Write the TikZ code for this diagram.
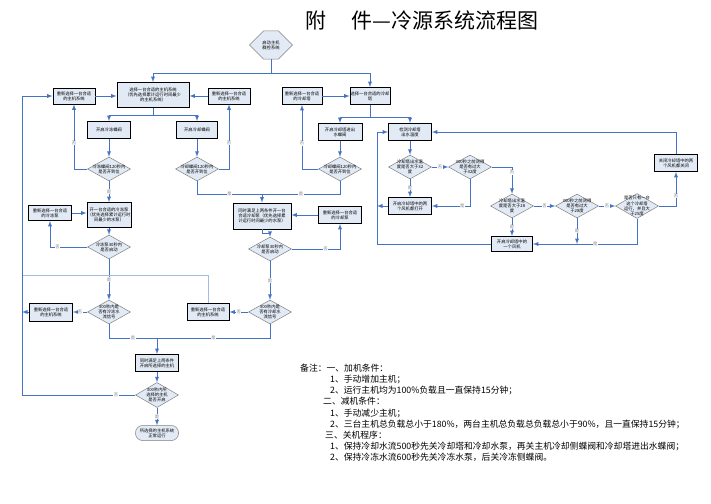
\documentclass[tikz,border=0pt]{standalone}
\usepackage{fontspec}
\setmainfont{Noto Sans CJK SC}
\usetikzlibrary{shapes.geometric,shapes.misc}
\definecolor{boxfill}{RGB}{226,234,245}
\definecolor{flow}{RGB}{68,114,196}
\definecolor{flowlite}{RGB}{160,188,226}
\begin{document}
\begin{tikzpicture}[x=1pt,y=-1pt,
box/.style={draw,line width=0.9pt,fill=boxfill,minimum width=43,minimum height=17,inner sep=0.5pt,align=center,font=\fontsize{4.3}{5.2}\selectfont},
dia/.style={diamond,draw=gray,line width=0.5pt,fill=boxfill,minimum width=43,minimum height=24,inner sep=0pt},
dtxt/.style={align=center,font=\fontsize{4.3}{5.2}\selectfont},
ln/.style={draw=flow,line width=0.9pt},
arr/.style={ln,-latex},
yn/.style={fill=white,inner sep=0.4pt,text=gray,font=\fontsize{4.3}{5}\selectfont}]
\useasboundingbox (0,0) rectangle (711,503);
\node[font=\fontsize{21}{21}\selectfont] (title) at (422,20) {附\hspace{1.2em}件—冷源系统流程图};
\node[box,chamfered rectangle,chamfered rectangle xsep=8pt,chamfered rectangle ysep=13pt,draw=gray,line width=0.5pt,minimum height=26] (start) at (271,45) {启动主机\\群控系统};
\node[box,minimum width=72,minimum height=25] (sel) at (153,95) {选择一台合适的主机系统\\（优先选择累计运行时间最少\\的主机系统）};
\node[box,minimum width=42,minimum height=16] (resl) at (74,96) {重新选择一台合适\\的主机系统};
\node[box,minimum width=42,minimum height=16] (resr) at (229,96) {重新选择一台合适\\的主机系统};
\node[box] (vf) at (109,130) {开启冷冻蝶阀};
\node[box,minimum width=41] (vc) at (197,130) {开启冷却蝶阀};
\node[dia,label={[dtxt]center:冷冻蝶阀120秒内\\是否开到位}] (qvf) at (109,169) {};
\node[dia,label={[dtxt]center:冷却蝶阀120秒内\\是否开到位}] (qvc) at (197,169) {};
\node[box,minimum height=25] (pf) at (109,215) {开一台合适的冷冻泵\\（优先选择累计运行时\\间最少的水泵）};
\node[box,minimum height=15] (respf) at (50,213) {重新选择一台合适\\的冷冻泵};
\node[dia,label={[dtxt]center:冷冻泵30秒内\\是否启动}] (qpf) at (109,247) {};
\node[box,minimum width=58,minimum height=26] (pc) at (262,216) {同时满足上两条件开一台\\合适冷却泵（优先选择累\\计运行时间最少的水泵）};
\node[box] (respc) at (340,215) {重新选择一台合适\\的冷却泵};
\node[dia,label={[dtxt]center:冷却泵30秒内\\是否启动}] (qpc) at (270,249) {};
\node[box,minimum width=40] (rest) at (302,96) {重新选择一台合适\\的冷却塔};
\node[box,minimum width=40] (tw) at (370,96) {选择一台合适的冷却\\塔};
\node[box,minimum width=44] (vt) at (340,132) {开启冷却塔进出\\水蝶阀};
\node[box] (chk) at (410,132) {检测冷却塔\\出水温度};
\node[dia,label={[dtxt]center:冷却蝶阀120秒内\\是否开到位}] (qvt) at (340,169) {};
\node[dia,label={[dtxt]center:冷却塔出水温\\度是否大于32\\度}] (qt1) at (410,167) {};
\node[dia,label={[dtxt]center:300秒之前测得\\是否有过大\\于32度}] (qh1) at (470,167) {};
\node[box] (fan2) at (410,206) {开启冷却塔中的两\\个风机都打开};
\node[dia,label={[dtxt]center:冷却塔出水温\\度是否大于28\\度}] (qt2) at (512,206) {};
\node[dia,label={[dtxt]center:300秒之前测得\\是否有过大\\于28度}] (qh2) at (577,206) {};
\node[dia,minimum height=25,label={[dtxt]center:是否只有一台\\这个冷却塔\\运行，并且大\\于25度}] (qone) at (637,206) {};
\node[box] (fan0) at (676,163) {关闭冷却塔中的两\\个风机都关闭};
\node[box,minimum width=41,minimum height=15] (fan1) at (512,244) {开启冷却塔中的\\一个风机};
\node[dia,label={[dtxt]center:300秒内是\\否有冷冻水\\流信号}] (qff) at (109,312) {};
\node[dia,label={[dtxt]center:300秒内是\\否有冷却水\\流信号}] (qfc) at (270,312) {};
\node[box,minimum height=18] (resl2) at (51,312) {重新选择一台合适\\的主机系统};
\node[box,minimum width=42] (resr2) at (208,312) {重新选择一台合适\\的主机系统};
\node[box] (on) at (157,363) {同时满足上两条件\\开启所选择的主机};
\node[dia,minimum height=25,label={[dtxt]center:300秒内所\\选择的主机\\是否开启}] (qon) at (157,395) {};
\node[box,rounded corners=7pt,draw=gray,line width=0.5pt,minimum height=15] (run) at (157,433) {所选择的主机系统\\正常运行};
\coordinate (j1) at (262,194);
\coordinate (j2) at (157,338);
\coordinate (j3) at (577,244);
\coordinate (back) at (22,96);
\coordinate (lp) at (377,132);
\coordinate (fr) at (22,275);
\draw[arr] (start.south) -- ++(0,14) -| (sel.north);
\draw[arr] (start.south) -- ++(0,14) -| (tw.north);
\draw[arr] (resl) -- (resl -| sel.west);
\draw[arr] (resr) -- (resr -| sel.east);
\draw[arr] (sel.south) -- ++(0,7) -| (vf.north);
\draw[arr] (sel.south) -- ++(0,7) -| (vc.north);
\draw[arr] (vf) -- (qvf);
\draw[arr] (vc) -- (qvc);
\draw[arr] (qvf.west) -| node[yn,pos=.7]{否} (resl.south);
\draw[arr] (qvc.east) -| node[yn,pos=.7]{否} (resr.south);
\draw[arr] (qvf) -- node[yn]{是} (pf);
\draw[ln] (qvc.south) |- node[yn,pos=.75]{是} (j1);
\draw[ln] (qvt.south) |- node[yn,pos=.75]{是} (j1);
\draw[arr] (j1) -- (pc.north);
\draw[arr] (tw.south) -- ++(0,12) -| (vt.north);
\draw[arr] (tw.south) -- ++(0,12) -| (chk.north);
\draw[arr] (rest) -- (tw);
\draw[arr] (vt) -- (qvt);
\draw[arr] (qvt.west) -| node[yn,pos=.7]{否} (rest.south);
\draw[arr] (respf) -- (respf -| pf.west);
\draw[arr] (pf) -- (qpf);
\draw[arr] (qpf.west) -| node[yn,pos=.4]{否} (respf.south);
\draw[arr] (respc) -- (respc -| pc.east);
\draw[arr] (pc.south) -- ++(0,4) -| (qpc.north);
\draw[arr] (qpc.east) -| node[yn,pos=.35]{否} (respc.south);
\draw[arr] (qpf) -- node[yn]{是} (qff);
\draw[arr] (qpc) -- node[yn]{是} (qfc);
\draw[arr] (qff) -- node[yn]{否} (resl2);
\draw[arr] (qfc) -- node[yn]{否} (resr2);
\draw[arr] (resl2) -- (resl2 -| back);
\draw[ln,draw=flowlite] (resr2.north) |- (fr);
\draw[ln] (qff.south) |- node[yn,pos=.75]{是} (j2);
\draw[ln] (qfc.south) |- node[yn,pos=.75]{是} (j2);
\draw[arr] (j2) -- (on);
\draw[arr] (on) -- (qon);
\draw[arr] (qon) -- node[yn]{是} (run);
\draw[arr] (qon.west) -- node[yn,pos=.17]{否} (qon.west -| back) -- (back) -- (resl.west);
\draw[arr] (chk) -- (qt1);
\draw[arr] (qt1) -- node[yn]{否} (qh1);
\draw[arr] (qt1) -- node[yn]{是} (fan2);
\draw[arr] (qh1.south) |- node[yn,pos=.6]{是} (fan2.east);
\draw[arr] (qh1.east) -| node[yn,pos=.6]{否} (qt2.north);
\draw[arr] (qt2) -- node[yn]{否} (qh2);
\draw[arr] (qt2) -- node[yn]{是} (fan1);
\draw[arr] (qh2) -- node[yn]{否} (qone);
\draw[arr] (qh2.south) -- node[yn]{是} (j3);
\draw[arr] (qone.south) |- node[yn,pos=.7]{是} (fan1.east);
\draw[arr] (qone.east) -| node[yn,pos=.65]{否} (fan0.south);
\draw[arr] (fan0.north) |- (chk.east);
\draw[arr] (fan1.west) -| (lp) -- (chk.west);
\draw[arr] (fan2.west) -- (fan2.west -| lp);
\node[anchor=north west,align=left,inner sep=0pt,font=\fontsize{8.8}{11.1}\selectfont] (note) at (300,364) {备注：一、加机条件：\\
\hspace*{30pt}1、手动增加主机；\\
\hspace*{30pt}2、运行主机均为100\%负载且一直保持15分钟；\\
\hspace*{23pt}二、减机条件：\\
\hspace*{30pt}1、手动减少主机；\\
\hspace*{30pt}2、三台主机总负载总小于180\%，两台主机总负载总负载总小于90\%，且一直保持15分钟；\\
\hspace*{25pt}三、关机程序：\\
\hspace*{30pt}1、保持冷却水流500秒先关冷却塔和冷却水泵，再关主机冷却侧蝶阀和冷却塔进出水蝶阀；\\
\hspace*{30pt}2、保持冷冻水流600秒先关冷冻水泵，后关冷冻侧蝶阀。};
\end{tikzpicture}
\end{document}
